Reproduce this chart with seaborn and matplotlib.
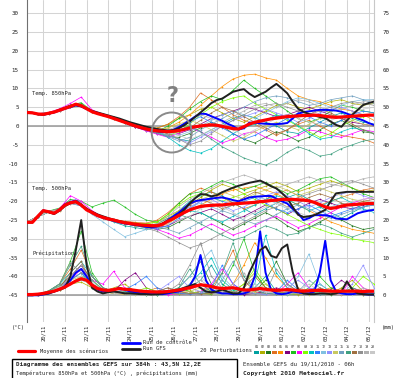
import matplotlib
matplotlib.use("Agg")
import matplotlib.pyplot as plt
import seaborn as sns
from matplotlib.lines import Line2D
from matplotlib.patches import Rectangle, Ellipse

# heures depuis le run du 19/11/2010 06h
hours6 = list(range(0, 385, 6))
hours12 = list(range(0, 385, 12))

day_ticks = list(range(18, 385, 24))
day_labels = ["20/11", "21/11", "22/11", "23/11", "24/11", "25/11", "26/11", "27/11",
              "28/11", "29/11", "30/11", "01/12", "02/12", "03/12", "04/12", "05/12"]

# moyenne / controle / GFS (pas de 6h)
mean_850 = [3.6, 3.5, 3.2, 3.1, 3.4, 3.7, 4.2, 4.7, 5.2, 5.8,
            5.4, 4.6, 3.8, 3.3, 2.9, 2.5, 2.0, 1.5, 1.0, 0.5,
            0.0, -0.4, -0.8, -1.1, -1.3, -1.4, -1.5, -1.4, -1.2, -0.9,
            -0.5, -0.2, 0.0, 0.2, 0.3, 0.2, -0.1, -0.4, -0.7, -0.8,
            -0.2, 0.5, 1.0, 1.3, 1.6, 1.9, 2.1, 2.3, 2.5, 2.6,
            2.7, 2.8, 2.8, 2.9, 2.8, 2.6, 2.4, 2.3, 2.4, 2.5,
            2.6, 2.7, 2.8, 2.9, 2.9]
ctrl_850 = [3.6, 3.5, 3.2, 3.0, 3.3, 3.6, 4.1, 4.6, 5.0, 5.5,
            5.2, 4.5, 3.9, 3.4, 3.0, 2.6, 2.1, 1.6, 1.0, 0.4,
            -0.1, -0.5, -0.9, -1.2, -1.4, -1.6, -1.5, -1.0, -0.3, 0.6,
            1.5, 2.5, 3.3, 3.2, 2.6, 2.0, 1.4, 0.6, 0.0, -0.9,
            -0.6, 0.9, 0.9, 0.7, 0.6, 0.5, 0.5, 0.6, 0.8, 2.0,
            3.3, 3.7, 3.9, 4.1, 4.3, 4.3, 4.2, 4.1, 3.8, 3.3,
            2.7, 2.0, 1.5, 0.8, 0.3]
gfs_850 = [3.6, 3.5, 3.1, 3.0, 3.3, 3.7, 4.3, 4.8, 5.3, 5.6,
           5.3, 4.7, 4.0, 3.6, 3.2, 2.8, 2.4, 2.0, 1.5, 1.0,
           0.6, 0.2, -0.2, -0.5, -0.8, -1.0, -1.2, -1.1, -0.6, 0.2,
           1.2, 2.4, 3.6, 4.8, 6.1, 6.9, 7.3, 8.2, 9.1, 9.5,
           9.8, 8.6, 7.7, 8.4, 9.1, 10.2, 11.2, 10.0, 8.7, 6.5,
           4.6, 3.8, 3.2, 2.8, 2.4, 2.1, 1.2, 0.3, -0.2, 1.5,
           3.0, 4.3, 5.6, 6.1, 6.5]

mean_500 = [-25.6, -25.6, -24.0, -22.5, -22.8, -23.2, -22.3, -21.0, -20.4, -20.1,
            -21.0, -22.3, -23.0, -23.8, -24.3, -24.7, -25.0, -25.4, -25.7, -25.9,
            -26.1, -26.3, -26.4, -26.5, -26.5, -26.1, -25.3, -24.6, -23.8, -23.0,
            -22.3, -21.8, -21.4, -21.2, -21.1, -21.0, -21.0, -20.8, -20.7, -20.6,
            -20.5, -20.4, -20.3, -20.1, -20.0, -19.8, -19.7, -19.5, -19.5, -19.5,
            -19.6, -19.7, -19.9, -20.3, -20.9, -21.5, -21.9, -21.7, -21.3, -21.0,
            -20.9, -20.8, -20.7, -20.6, -20.6]
ctrl_500 = [-25.6, -25.6, -24.0, -22.4, -22.8, -23.3, -22.2, -20.8, -20.2, -19.8,
            -20.8, -22.2, -23.1, -23.9, -24.4, -24.8, -25.2, -25.6, -25.9, -26.1,
            -26.3, -26.5, -26.8, -26.9, -26.7, -26.0, -25.0, -24.0, -23.0, -21.8,
            -20.6, -20.0, -19.7, -19.5, -19.3, -19.1, -19.0, -19.3, -19.7, -20.0,
            -19.5, -19.0, -18.8, -18.7, -18.6, -18.6, -19.3, -20.0, -20.6, -22.0,
            -23.2, -25.0, -24.5, -23.7, -23.7, -23.7, -24.0, -24.6, -24.7, -24.8,
            -24.0, -23.2, -22.8, -22.5, -22.3]
gfs_500 = [-25.6, -25.6, -24.1, -22.6, -22.9, -23.4, -22.5, -21.2, -20.5, -20.2,
           -21.0, -22.0, -22.8, -23.5, -24.0, -24.5, -24.9, -25.3, -25.6, -25.9,
           -26.2, -26.4, -26.6, -26.7, -26.6, -26.0, -25.2, -24.5, -23.6, -22.3,
           -20.6, -19.2, -18.1, -18.2, -18.7, -18.4, -17.6, -17.0, -16.4, -15.9,
           -15.5, -15.1, -14.8, -14.5, -15.2, -16.0, -16.6, -17.8, -19.2, -21.5,
           -23.6, -24.2, -24.0, -23.7, -23.0, -22.3, -20.0, -17.9, -17.7, -17.5,
           -17.5, -17.5, -17.5, -17.5, -17.5]

mean_rain = [0.2, 0.2, 0.3, 0.5, 0.8, 1.1, 1.6, 2.2, 3.0, 3.8,
             4.4, 4.0, 2.7, 1.8, 1.4, 1.3, 1.5, 1.8, 1.6, 1.5,
             1.3, 1.1, 1.0, 0.9, 0.9, 0.9, 1.0, 1.2, 1.4, 1.7,
             2.0, 2.4, 2.8, 2.6, 2.3, 2.0, 1.8, 1.9, 2.0, 1.7,
             1.4, 1.4, 1.6, 1.8, 1.6, 1.4, 1.3, 1.4, 1.5, 1.4,
             1.2, 1.1, 1.2, 1.3, 1.3, 1.2, 1.1, 1.1, 1.1, 1.1,
             1.1, 1.1, 1.0, 1.1, 1.1]
ctrl_rain = [0.0, 0.0, 0.0, 0.2, 0.5, 1.0, 1.5, 2.5, 4.0, 6.0,
             7.0, 5.0, 2.5, 1.5, 1.0, 1.2, 1.5, 2.0, 1.5, 1.0,
             0.8, 0.5, 0.5, 0.4, 0.3, 0.3, 0.5, 0.8, 1.0, 1.5,
             2.5, 5.0, 10.7, 4.0, 1.5, 0.8, 0.5, 0.5, 0.3, 0.3,
             0.5, 1.0, 5.0, 17.0, 6.0, 1.5, 0.5, 0.3, 0.5, 1.0,
             0.8, 0.5, 0.5, 1.0, 6.0, 14.5, 4.0, 1.0, 0.5, 0.3,
             0.3, 0.5, 0.3, 0.2, 0.2]
gfs_rain = [0.0, 0.0, 0.2, 0.3, 0.5, 1.0, 1.5, 2.0, 5.0, 12.0,
            20.0, 8.0, 2.0, 1.0, 0.5, 0.8, 1.0, 0.8, 0.5, 0.5,
            0.4, 0.3, 0.3, 0.2, 0.3, 0.5, 0.8, 1.0, 1.5, 2.0,
            2.5, 3.0, 2.0, 1.0, 0.8, 1.0, 1.5, 1.0, 0.5, 0.5,
            2.0, 6.0, 9.0, 12.0, 13.0, 10.5, 10.0, 12.5, 13.5, 6.2,
            1.5, 0.5, 0.3, 0.3, 0.5, 0.5, 0.3, 0.5, 1.0, 3.7,
            1.5, 0.5, 0.3, 0.2, 0.2]

# 20 perturbations (pas de 12h)
pert_colors = ["#00a0a0", "#b0b000", "#207820", "#e07020", "#ff9000",
               "#800080", "#20c020", "#ff00ff", "#80ff00", "#00c0c0",
               "#3080ff", "#80c0e0", "#9090ff", "#c8c860", "#70a0c0",
               "#40a080", "#a07040", "#909090", "#b0b0b0", "#c8c8c8"]

pert_850 = [
    [3.6, 3.3, 3.5, 4.4, 5.6, 5.9, 4.0, 3.1, 2.2, 1.0, -0.2, -1.0, -1.6, -2.5, -3.5, -4.0, -2.5, -1.0, 0.5, 2.0, 3.0, 2.2, 1.0, 0.0, -1.5, -2.0, -0.5, 1.0, 2.5, 3.5, 2.0, 1.0, 0.5],
    [3.6, 3.2, 3.3, 4.0, 5.0, 5.2, 3.6, 2.8, 1.8, 0.8, -0.2, -0.6, -0.5, 0.5, 2.0, 3.0, 4.5, 5.0, 3.5, 2.0, 1.0, 2.5, 4.0, 5.5, 6.0, 5.0, 4.5, 5.5, 6.5, 7.0, 6.0, 5.5, 6.0],
    [3.6, 3.1, 3.4, 4.3, 5.3, 5.6, 3.9, 2.8, 1.9, 0.9, -0.3, -1.2, -2.0, -2.8, -3.0, -2.0, -0.5, 1.0, 0.0, -2.0, -3.5, -4.5, -3.0, -1.5, -2.5, -4.0, -3.0, -1.0, 0.5, 1.5, 0.0, -1.5, -2.0],
    [3.6, 3.3, 3.6, 4.5, 5.5, 5.8, 4.1, 3.0, 2.1, 1.2, 0.3, -0.3, -0.6, 0.5, 2.5, 5.0, 8.8, 7.0, 5.0, 3.0, 1.5, 0.5, -1.0, -2.5, -1.0, 0.5, 1.5, 0.0, -1.5, -2.5, -3.0, -3.5, -4.5],
    [3.6, 3.2, 3.3, 4.1, 5.1, 5.3, 3.7, 2.8, 2.0, 1.1, 0.2, -0.5, -1.0, -0.5, 1.0, 3.0, 5.5, 8.0, 10.5, 12.5, 13.5, 13.8, 12.8, 12.2, 10.0, 8.0, 7.0, 6.5, 5.5, 4.5, 4.0, 3.0, 1.5],
    [3.6, 3.3, 3.4, 4.2, 5.2, 5.5, 3.8, 2.9, 2.0, 1.0, -0.2, -1.0, -1.8, -2.5, -2.0, -1.0, 0.5, 2.0, 3.0, 4.0, 5.0, 4.5, 3.5, 2.5, 3.0, 4.0, 5.0, 4.0, 3.0, 2.0, 1.0, 0.5, 0.0],
    [3.6, 3.2, 3.5, 4.4, 5.6, 6.2, 4.0, 3.1, 2.3, 1.3, 0.4, -0.5, -1.5, 0.0, 2.0, 4.5, 6.5, 8.0, 7.0, 9.5, 12.2, 10.0, 8.0, 6.0, 4.0, 2.0, 1.0, 2.0, 4.0, 5.5, 5.0, 4.0, 3.5],
    [3.6, 3.3, 3.6, 4.6, 6.0, 7.7, 4.3, 3.2, 2.1, 1.0, -0.3, -1.3, -2.2, -3.0, -2.0, -0.5, -1.5, -3.0, -4.5, -3.5, -2.0, -1.5, -3.0, -4.0, -3.5, -2.5, -1.0, -1.5, -2.5, -3.0, -2.0, -1.0, -1.5],
    [3.6, 3.2, 3.4, 4.3, 5.2, 5.5, 3.8, 2.9, 2.0, 1.0, 0.0, -0.9, -1.7, -2.5, -1.5, 0.5, 3.0, 5.0, 6.5, 7.5, 8.0, 6.0, 4.5, 3.0, 1.5, 0.0, -1.5, -3.0, -2.0, 0.0, 1.5, 2.5, 3.0],
    [3.6, 3.3, 3.5, 4.2, 5.1, 5.4, 3.9, 3.0, 2.0, 0.9, -0.1, -0.9, -1.5, -3.0, -5.0, -6.5, -7.2, -6.0, -4.0, -2.0, -0.5, 0.5, 1.5, 3.0, 2.0, 0.0, -2.0, -3.5, -3.0, -1.5, -0.5, -1.0, -2.0],
    [3.6, 3.2, 3.4, 4.2, 5.3, 5.6, 3.9, 2.9, 2.0, 1.0, 0.0, -0.7, -1.2, -1.5, -0.5, 1.0, 2.5, 1.0, -0.5, -2.0, -3.5, -2.5, -1.0, 0.5, 2.0, 3.5, 2.5, 1.0, 0.0, 1.5, 3.0, 4.0, 3.5],
    [3.6, 3.3, 3.5, 4.3, 5.4, 5.7, 4.0, 3.1, 2.2, 1.2, 0.2, -0.5, -1.0, -1.8, -2.5, -1.5, 0.0, 1.5, 3.0, 4.0, 3.0, 2.0, 3.5, 5.0, 6.5, 7.5, 7.0, 6.0, 5.0, 5.5, 6.5, 7.0, 7.0],
    [3.6, 3.2, 3.3, 4.0, 5.0, 5.3, 3.7, 2.8, 1.9, 0.9, -0.1, -1.0, -1.6, -2.5, -3.5, -4.5, -3.0, -1.5, 0.0, 1.5, 2.5, 3.5, 4.5, 3.5, 2.5, 1.0, 2.0, 3.5, 4.5, 5.0, 4.0, 3.0, 2.5],
    [3.6, 3.3, 3.4, 4.2, 5.2, 5.4, 3.8, 3.0, 2.1, 1.1, 0.1, -0.6, -1.1, -0.5, 0.5, 1.5, 0.5, -1.0, -2.5, -4.0, -3.0, -1.5, 0.0, 1.0, 0.0, -1.0, 0.5, 2.0, 3.0, 2.5, 1.5, 0.5, 0.0],
    [3.6, 3.2, 3.4, 4.3, 5.3, 5.6, 3.9, 2.9, 2.0, 1.0, -0.1, -1.0, -1.8, -2.8, -4.0, -3.0, -1.0, 0.5, 2.0, 3.5, 5.0, 6.5, 7.5, 8.0, 7.5, 6.5, 5.5, 6.0, 7.0, 7.5, 8.0, 7.0, 6.0],
    [3.6, 3.3, 3.5, 4.3, 5.3, 5.6, 3.9, 3.0, 2.1, 1.1, 0.1, -0.8, -1.5, -2.0, -1.0, 0.0, -1.5, -3.5, -5.5, -7.0, -8.5, -9.5, -10.4, -9.0, -7.0, -5.5, -6.5, -8.0, -7.5, -6.0, -5.0, -4.0, -3.5],
    [3.6, 3.2, 3.4, 4.2, 5.1, 5.4, 3.8, 2.9, 2.0, 1.0, 0.0, -0.8, -1.4, -2.0, -1.5, -0.5, 1.5, 3.5, 5.0, 4.0, 2.5, 1.0, -0.5, -2.0, -1.0, 1.0, 3.0, 4.5, 3.5, 2.0, 0.5, -1.0, -2.0],
    [3.6, 3.3, 3.5, 4.4, 5.4, 5.7, 4.0, 3.1, 2.2, 1.2, 0.2, -0.4, -1.0, -2.0, -3.5, -5.0, -4.0, -2.0, 0.0, 1.5, 3.0, 4.5, 5.5, 6.0, 5.0, 4.0, 3.0, 4.0, 5.0, 6.0, 6.5, 6.0, 5.5],
    [3.6, 3.2, 3.4, 4.1, 5.1, 5.4, 3.8, 3.0, 2.1, 1.1, 0.0, -0.8, -1.3, -1.0, 0.0, 1.5, 3.0, 2.0, 1.0, 2.5, 4.0, 5.5, 6.0, 5.0, 6.0, 7.0, 6.5, 5.0, 4.0, 4.5, 5.5, 6.5, 7.0],
    [3.6, 3.3, 3.5, 4.3, 5.2, 5.5, 3.9, 3.0, 2.1, 1.1, 0.1, -0.7, -1.2, -1.8, -2.5, -3.5, -2.5, -1.0, 0.5, -1.0, -2.5, -1.0, 0.5, 2.0, 3.0, 2.0, 1.0, 0.5, 1.5, 2.5, 3.5, 4.5, 5.0],
]

pert_500 = [
    [-25.6, -24.1, -22.7, -22.0, -20.0, -20.8, -23.0, -24.5, -25.5, -26.5, -27.0, -27.5, -27.0, -25.0, -22.5, -20.0, -18.5, -17.5, -18.5, -20.5, -22.0, -23.5, -22.0, -20.5, -19.0, -18.0, -19.5, -21.5, -23.0, -24.5, -23.0, -21.5, -20.5],
    [-25.6, -24.0, -22.9, -22.4, -20.5, -21.2, -23.2, -24.4, -25.0, -25.5, -25.8, -26.0, -25.5, -24.0, -22.5, -21.0, -19.0, -17.0, -15.5, -16.5, -18.0, -17.0, -16.0, -15.0, -16.0, -17.5, -16.5, -15.5, -14.5, -15.5, -16.5, -17.5, -17.0],
    [-25.6, -23.9, -22.8, -22.3, -20.3, -20.9, -22.9, -24.2, -25.2, -26.0, -26.5, -27.0, -27.5, -27.0, -25.5, -24.0, -23.0, -24.5, -26.0, -27.5, -26.0, -24.5, -23.0, -24.5, -26.5, -28.0, -27.0, -25.5, -24.0, -25.0, -26.5, -27.5, -27.0],
    [-25.6, -24.0, -22.7, -22.1, -20.1, -20.7, -22.8, -24.1, -24.8, -25.3, -25.6, -25.8, -25.0, -23.0, -20.5, -18.0, -16.5, -17.5, -19.0, -20.5, -22.0, -21.0, -19.5, -18.0, -17.0, -18.5, -20.0, -21.0, -20.0, -19.0, -18.0, -17.0, -16.5],
    [-25.6, -24.1, -22.9, -22.5, -20.6, -21.1, -23.1, -24.5, -25.3, -26.0, -26.5, -26.8, -27.0, -26.0, -24.0, -22.5, -21.0, -19.5, -18.0, -17.0, -16.5, -16.0, -17.0, -18.0, -19.5, -21.0, -22.5, -24.0, -25.5, -26.5, -27.5, -28.0, -28.5],
    [-25.6, -24.0, -22.8, -22.2, -20.3, -21.0, -23.0, -24.3, -25.0, -25.7, -26.2, -26.7, -27.0, -26.5, -25.0, -24.0, -23.0, -22.0, -23.5, -25.0, -24.0, -22.5, -21.0, -22.0, -23.5, -22.0, -20.5, -19.5, -20.5, -21.5, -22.0, -21.0, -20.5],
    [-25.6, -24.0, -22.6, -21.8, -19.5, -20.0, -21.5, -20.5, -19.7, -21.5, -23.5, -25.0, -25.5, -23.5, -20.5, -18.0, -17.5, -16.0, -14.5, -15.5, -17.0, -16.0, -15.0, -16.5, -18.0, -17.0, -15.5, -14.0, -13.5, -15.0, -16.5, -18.0, -19.0],
    [-25.6, -24.0, -22.8, -22.0, -18.5, -20.0, -22.5, -24.2, -25.0, -25.8, -26.3, -26.8, -27.5, -28.5, -29.8, -29.0, -27.5, -26.0, -27.5, -29.0, -28.0, -26.5, -25.0, -24.0, -25.5, -27.0, -26.0, -24.5, -23.0, -21.5, -20.5, -19.5, -19.0],
    [-25.6, -24.0, -22.8, -22.3, -20.4, -21.0, -23.0, -24.4, -25.0, -25.5, -25.8, -26.0, -25.5, -23.5, -21.0, -19.0, -18.0, -19.0, -20.0, -19.0, -18.0, -19.5, -21.0, -22.0, -23.5, -25.0, -26.5, -27.5, -28.5, -29.0, -30.0, -30.5, -31.0],
    [-25.6, -24.1, -22.9, -22.4, -20.5, -21.1, -23.1, -24.4, -25.2, -25.9, -26.3, -26.6, -26.5, -25.5, -24.0, -22.5, -23.0, -24.5, -25.5, -24.0, -22.5, -21.0, -19.5, -18.5, -19.5, -21.0, -22.5, -21.5, -20.0, -19.0, -20.5, -22.0, -23.0],
    [-25.6, -24.0, -22.7, -22.2, -20.2, -20.8, -22.9, -24.2, -25.0, -25.8, -26.4, -27.0, -27.3, -26.5, -24.5, -22.0, -20.0, -19.0, -20.0, -21.0, -20.0, -19.0, -20.5, -22.0, -23.0, -22.0, -21.0, -22.5, -24.0, -23.0, -22.0, -21.5, -21.0],
    [-25.6, -24.0, -22.8, -22.3, -20.5, -21.3, -23.5, -25.5, -27.5, -29.4, -28.5, -27.5, -26.5, -25.0, -23.0, -21.5, -20.5, -21.5, -22.5, -21.0, -19.5, -18.5, -19.5, -20.5, -22.0, -23.5, -24.5, -23.0, -21.5, -20.5, -21.5, -22.5, -22.0],
    [-25.6, -24.1, -22.9, -22.4, -20.6, -21.2, -23.2, -24.5, -25.2, -25.9, -26.3, -26.8, -27.0, -25.5, -23.5, -21.5, -20.0, -19.5, -21.0, -22.5, -21.5, -20.0, -18.5, -17.5, -18.5, -20.0, -21.5, -20.5, -19.0, -18.0, -17.5, -18.5, -19.5],
    [-25.6, -24.0, -22.7, -22.1, -20.2, -20.9, -22.9, -24.2, -25.0, -25.6, -26.0, -26.3, -26.0, -24.5, -22.5, -20.5, -19.5, -18.5, -17.5, -18.5, -19.5, -18.0, -17.0, -16.0, -17.0, -18.5, -17.5, -16.5, -17.5, -18.5, -19.5, -20.0, -20.5],
    [-25.6, -24.0, -22.8, -22.3, -20.4, -21.1, -23.1, -24.4, -25.1, -25.8, -26.2, -26.6, -26.8, -27.5, -28.5, -27.0, -25.5, -24.0, -22.5, -23.5, -25.0, -26.0, -25.0, -23.5, -22.0, -21.0, -22.0, -23.5, -24.5, -23.5, -22.5, -21.5, -21.0],
    [-25.6, -24.1, -22.9, -22.3, -20.4, -21.0, -23.0, -24.3, -25.1, -25.8, -26.2, -26.5, -26.0, -24.5, -23.5, -24.5, -26.0, -27.5, -29.0, -30.3, -29.5, -28.0, -26.5, -27.5, -29.0, -28.5, -27.0, -26.0, -27.0, -28.5, -29.5, -28.5, -27.5],
    [-25.6, -24.0, -22.8, -22.2, -20.3, -20.9, -22.9, -24.3, -25.0, -25.7, -26.1, -26.4, -26.3, -25.0, -23.0, -21.0, -19.5, -20.5, -22.0, -21.0, -19.0, -17.5, -18.5, -20.0, -21.5, -20.5, -19.0, -18.0, -19.0, -20.5, -21.0, -20.0, -19.5],
    [-25.6, -24.0, -22.7, -22.1, -20.2, -20.8, -22.8, -24.2, -25.0, -25.8, -26.5, -27.2, -28.0, -29.5, -31.0, -32.4, -31.5, -30.0, -28.5, -27.0, -25.5, -24.0, -22.5, -21.5, -20.0, -19.0, -18.0, -17.0, -16.0, -15.0, -14.5, -15.5, -16.5],
    [-25.6, -24.1, -22.8, -22.3, -20.5, -21.1, -23.1, -24.4, -25.1, -25.8, -26.2, -26.5, -26.0, -24.0, -21.5, -19.5, -18.0, -16.5, -15.0, -14.0, -13.0, -14.0, -15.5, -16.5, -15.5, -14.5, -13.5, -14.5, -15.5, -16.0, -15.0, -14.0, -13.5],
    [-25.6, -24.0, -22.8, -22.3, -20.4, -21.0, -23.0, -24.3, -25.0, -25.7, -26.1, -26.4, -26.5, -26.0, -25.0, -24.0, -22.0, -20.5, -21.5, -23.0, -24.5, -23.0, -21.5, -20.5, -21.5, -23.0, -24.0, -23.0, -22.0, -21.0, -20.0, -19.5, -19.0],
]

pert_rain = [
    [0, 0.2, 0.8, 2, 4, 6, 3, 1, 0.5, 1, 1.5, 0.5, 0.3, 0.5, 1, 2, 4, 8, 3, 1, 0.5, 2, 5, 1, 0.5, 0.3, 1, 3, 1, 0.5, 0.3, 0.5, 0.2],
    [0, 0.1, 0.5, 1.5, 3, 3.5, 2, 1, 2, 3, 1, 0.5, 0.2, 0.3, 0.8, 1.5, 3, 1, 0.5, 1, 3, 6, 2, 0.5, 0.3, 0.2, 0.5, 1, 0.5, 2, 4, 1, 0.5],
    [0, 0.2, 1, 2.5, 5, 8, 4, 1.5, 0.8, 0.5, 0.3, 0.2, 0.2, 0.5, 2, 5, 9, 3, 1, 0.5, 0.3, 1, 4, 9, 3, 1, 0.5, 0.3, 0.2, 0.5, 1, 0.5, 0.3],
    [0, 0.3, 1, 3, 7, 12, 5, 2, 1, 0.8, 0.5, 1, 2, 1, 0.5, 0.3, 1, 2, 6, 12, 4, 1, 0.5, 0.3, 0.5, 2, 1, 0.5, 0.3, 0.2, 0.5, 1, 0.5],
    [0, 0.1, 0.6, 1.5, 5, 7, 2.5, 1, 0.5, 0.3, 0.5, 1, 0.5, 0.3, 0.5, 1, 0.5, 0.3, 1, 3, 8, 14, 10, 5, 2, 1, 0.5, 1, 2, 1, 0.5, 0.3, 0.2],
    [0, 0.2, 0.8, 2, 5, 8, 3, 1.5, 1, 4, 6, 2, 0.8, 0.5, 0.3, 0.5, 1, 0.8, 0.5, 0.3, 0.2, 0.5, 1, 2, 1, 0.5, 0.3, 0.5, 1.5, 4, 2, 0.8, 0.5],
    [0, 0.3, 1.2, 3, 9, 17, 6, 2, 1, 0.6, 0.4, 0.3, 0.5, 1, 2, 1, 0.5, 0.3, 2, 8, 15, 6, 2, 1, 0.5, 0.3, 2, 5, 2, 0.8, 0.5, 0.3, 0.2],
    [0, 0.2, 0.7, 2, 4, 7, 4, 3, 6.4, 2, 1, 0.5, 0.3, 0.2, 0.3, 0.5, 1, 3, 7, 3, 1, 0.5, 0.3, 0.5, 3, 6, 2, 1, 0.5, 0.3, 5, 2, 0.5],
    [0, 0.2, 0.9, 2.5, 3, 5, 4, 1.5, 0.8, 0.5, 1, 2, 1, 0.5, 0.3, 0.5, 1, 0.5, 0.3, 1, 3, 7, 3, 1, 0.5, 0.3, 0.5, 1, 0.8, 0.5, 2, 5, 3],
    [0, 0.2, 1, 3, 6, 9, 5, 2, 1, 0.5, 0.3, 0.2, 0.3, 0.5, 1, 3, 6, 10, 4, 1.5, 1, 3, 16, 6, 2, 1, 0.5, 0.3, 0.5, 1, 0.5, 0.3, 0.2],
    [0, 0.1, 0.5, 1.5, 4, 6, 2, 1, 0.8, 1.5, 3, 5, 2, 0.8, 0.5, 0.3, 0.5, 2, 8, 3, 1, 0.5, 0.3, 1, 4, 1.5, 0.5, 0.3, 0.5, 1, 0.5, 0.3, 0.3],
    [0, 0.2, 0.8, 2, 3, 4, 3, 1.2, 0.8, 0.5, 0.4, 0.3, 0.5, 1, 2, 5, 9, 12, 5, 2, 1, 0.5, 0.3, 0.5, 1, 5, 11, 3, 1, 0.5, 0.3, 0.2, 0.2],
    [0, 0.2, 0.6, 1.8, 5, 7, 3, 1, 0.6, 0.4, 0.3, 0.5, 1, 3, 5, 2, 1, 0.5, 0.3, 0.5, 1, 2, 1, 0.5, 2, 4, 2, 1, 0.5, 0.3, 3, 8, 2],
    [0, 0.1, 0.5, 1.5, 4, 5, 2, 1, 0.5, 0.3, 0.2, 0.2, 0.3, 0.5, 0.8, 1, 2, 1, 0.5, 0.3, 0.5, 1, 3, 1, 0.5, 0.3, 0.2, 0.5, 1, 0.5, 0.3, 0.2, 0.2],
    [0, 0.2, 1, 2.5, 4, 6, 4, 1.5, 0.8, 0.5, 0.3, 0.5, 1, 2, 1, 0.5, 0.3, 1, 4, 9, 4, 1.5, 0.5, 0.3, 0.5, 1, 4, 2, 0.8, 0.5, 0.3, 0.5, 0.3],
    [0, 0.3, 1.2, 3, 8, 13, 5, 2, 1, 0.8, 0.5, 0.3, 0.2, 0.5, 2, 7, 3, 1, 6, 14, 5, 1.5, 0.5, 0.3, 0.2, 0.5, 1, 0.5, 0.3, 0.5, 2, 1, 0.5],
    [0, 0.2, 0.8, 2, 6, 9, 3, 1.2, 0.8, 0.5, 0.3, 0.5, 1, 2, 1, 0.5, 0.3, 0.5, 1, 0.5, 2, 5, 2, 1, 0.5, 0.3, 0.5, 2, 1, 0.5, 0.3, 0.2, 0.2],
    [0, 0.2, 1, 3, 8.6, 6, 5, 2, 1, 0.6, 0.4, 0.3, 0.5, 1, 3, 8, 14, 5, 2, 1, 0.5, 0.3, 0.5, 7, 3, 1, 0.5, 0.3, 0.5, 1, 0.5, 0.3, 0.2],
    [0, 0.1, 0.6, 1.8, 5, 8, 3, 1, 0.6, 0.4, 0.3, 0.2, 0.3, 0.5, 1, 2, 4, 2, 1, 3, 6, 2, 1, 0.5, 0.3, 0.5, 1, 0.8, 0.5, 0.3, 1, 2, 1],
    [0, 0.2, 0.8, 2.2, 3, 5, 3.5, 1.3, 0.7, 0.5, 0.3, 0.3, 0.5, 0.8, 1.5, 3, 5, 2, 1, 0.5, 1, 3, 1, 0.5, 0.3, 1, 3, 1, 0.5, 0.3, 0.2, 0.5, 0.3],
]

sns.set_style("white")
plt.rcParams["font.family"] = ["DejaVu Sans Mono"]

W, H = 400, 378
fig = plt.figure(figsize=(4, 3.78), dpi=100)
ax = fig.add_axes([27 / W, 1 - 322 / H, 347 / W, 322 / H])
ax2 = ax.twinx()

def fx(x):
    return x / W

def fy(y):
    return 1 - y / H

# perturbations
for i in range(20):
    c = pert_colors[i]
    for a, vals in ((ax, pert_850[i]), (ax, pert_500[i]), (ax2, pert_rain[i])):
        sns.lineplot(x=hours12, y=vals, ax=a, color=c, linewidth=0.5,
                     marker="o", markersize=1.2, markeredgewidth=0, zorder=3)

# controle, GFS, moyenne
for a, series in ((ax, (ctrl_850, gfs_850, mean_850)),
                  (ax, (ctrl_500, gfs_500, mean_500)),
                  (ax2, (ctrl_rain, gfs_rain, mean_rain))):
    sns.lineplot(x=hours6, y=series[0], ax=a, color="#0000ff", linewidth=1.4, zorder=4)
    sns.lineplot(x=hours6, y=series[1], ax=a, color="#202020", linewidth=1.4, zorder=5)
    sns.lineplot(x=hours6, y=series[2], ax=a, color="#ff0000", linewidth=2.3, zorder=6)

ax.set_xlim(0, 384)
ax.set_ylim(-52.1, 33.5)
ax2.set_ylim(-52.1 + 45, 33.5 + 45)

ax.set_xticks(day_ticks)
ax.set_xticklabels(day_labels, rotation=90, fontsize=4)
ax.set_yticks(list(range(-45, 31, 5)))
ax.set_yticklabels([str(v) for v in range(-45, 31, 5)], fontsize=4.2)
ax2.set_yticks(list(range(0, 76, 5)))
ax2.set_yticklabels([str(v) for v in range(0, 76, 5)], fontsize=4.2)
ax.tick_params(axis="both", length=0, pad=6)
ax.tick_params(axis="x", pad=2)
ax2.tick_params(axis="y", length=0, pad=6)

ax.grid(True, color="#d4d4d4", linewidth=0.75)
ax.set_axisbelow(True)
ax.axhline(0, color="#a0a0a0", linewidth=1.2, zorder=1)
ax.axhline(-45, color="#a0a0a0", linewidth=1.2, zorder=1)

for a in (ax, ax2):
    a.set_xlabel("")
    a.set_ylabel("")
    for side in ("top", "bottom", "left", "right"):
        a.spines[side].set_visible(False)
ax.spines["left"].set_visible(True)
ax.spines["left"].set_color("#707070")
ax2.spines["right"].set_visible(True)
ax2.spines["right"].set_color("#c8c8c8")

ts = 3.9
ax.text(6, 8.2, "Temp. 850hPa", fontsize=ts, zorder=7)
ax.text(6, -17.0, "Temp. 500hPa", fontsize=ts, zorder=7)
ax.text(6, -34.2, "Précipitations", fontsize=ts, zorder=7)

# point d'interrogation et cercle
fig.text(fx(172.5), fy(96), "?", fontsize=15, fontweight="bold", color="#808080",
         family="DejaVu Sans", ha="center", va="center")
fig.add_artist(Ellipse((fx(171.7), fy(132.5)), 40 / W, 40 / H, transform=fig.transFigure,
                       fill=False, ec="#8a8a8a", lw=1.4, zorder=8))

fig.text(fx(12), fy(327), "(°C)", fontsize=ts, va="center")
fig.text(fx(382), fy(328), "(mm)", fontsize=ts, va="center")

# legende
fig.add_artist(Line2D([fx(122), fx(140)], [fy(343), fy(343)], color="#0000ff", lw=2))
fig.add_artist(Line2D([fx(122), fx(140)], [fy(348.5), fy(348.5)], color="#202020", lw=2))
fig.text(fx(143), fy(343), "Run de contrôle", fontsize=ts, va="center")
fig.text(fx(143), fy(349), "Run GFS", fontsize=ts, va="center")
fig.add_artist(Line2D([fx(18), fx(35)], [fy(351), fy(351)], color="#ff0000", lw=2.3))
fig.text(fx(40), fy(351), "Moyenne des scénarios", fontsize=ts, va="center")
fig.text(fx(200), fy(351), "20 Perturbations", fontsize=ts, va="center")
for i, c in enumerate(pert_colors):
    x0 = 254 + i * 6.1
    fig.text(fx(x0 + 2.5), fy(347), "%02d" % (i + 1), fontsize=2.4, ha="center", va="center")
    fig.add_artist(Rectangle((fx(x0), fy(354)), 5 / W, 3.5 / H, transform=fig.transFigure,
                             fc=c, ec="none"))

fig.add_artist(Rectangle((fx(12), fy(378.5)), 225 / W, 19.5 / H, transform=fig.transFigure,
                         fill=False, ec="black", lw=1))
fig.text(fx(16), fy(364.5), "Diagramme des ensembles GEFS sur 384h : 43,5N 12,2E",
         fontsize=4.3, fontweight="bold", va="center")
fig.text(fx(16), fy(373), "Températures 850hPa et 500hPa (°C) , précipitations (mm)",
         fontsize=3.85, va="center")
fig.text(fx(243), fy(363.5), "Ensemble GEFS du 19/11/2010 - 06h", fontsize=4.1, va="center")
fig.text(fx(243), fy(374), "Copyright 2010 Meteociel.fr", fontsize=4.4,
         fontweight="bold", va="center")

fig.savefig("out.png", dpi=100)
